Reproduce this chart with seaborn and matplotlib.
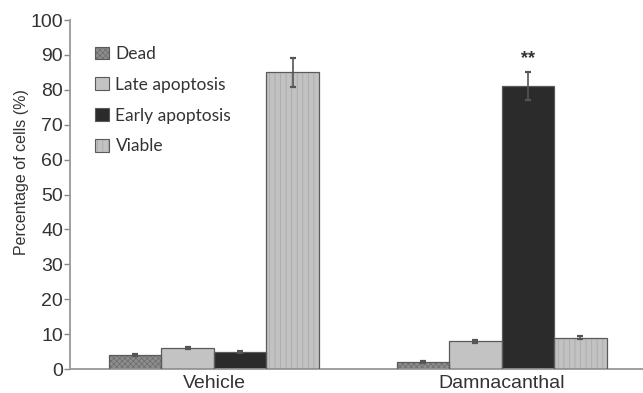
import matplotlib
matplotlib.use("Agg")
import matplotlib.pyplot as plt
import seaborn as sns
import pandas as pd
from matplotlib.patches import Patch

# Cell-state percentages after treatment
treatments = ["Vehicle", "Damnacanthal"]
states = ["Dead", "Late apoptosis", "Early apoptosis", "Viable"]
vehicle_vals = [4.0, 6.0, 5.0, 85.0]
vehicle_err = [0.3, 0.4, 0.3, 4.2]
damna_vals = [2.0, 8.0, 81.0, 9.0]
damna_err = [0.2, 0.4, 4.0, 0.5]
yticks = list(range(0, 101, 10))

sns.set_theme(style="white")
plt.rcParams["font.family"] = ["Liberation Sans", "DejaVu Sans"]
plt.rcParams["hatch.linewidth"] = 0.6

df = pd.DataFrame({
    "treatment": [t for t in treatments for _ in states],
    "state": states * 2,
    "value": vehicle_vals + damna_vals,
    "err": vehicle_err + damna_err,
})

face = {"Dead": "#8e8e8e", "Late apoptosis": "#c3c3c3",
        "Early apoptosis": "#2b2b2b", "Viable": "#c2c2c2"}
hatch = {"Dead": "xxxxxx", "Late apoptosis": "", "Early apoptosis": "", "Viable": "|||"}
hatch_col = {"Dead": "#6f6f6f", "Late apoptosis": "#c3c3c3",
             "Early apoptosis": "#2b2b2b", "Viable": "#aaaaaa"}

fig = plt.figure(figsize=(6.43, 3.93), dpi=100)
ax = fig.add_axes([0.109, 0.061, 0.895, 0.888])

sns.barplot(data=df, x="treatment", y="value", hue="state", order=treatments,
            hue_order=states, palette=face, width=0.73, gap=0, errorbar=None,
            ax=ax, legend=False, saturation=1)

# Style bars per state and add error bars at the bar centres
for container, st in zip(ax.containers, states):
    sub = df[df["state"] == st].set_index("treatment").loc[treatments]
    xs = []
    for bar in container:
        bar.set_hatch(hatch[st])
        bar.set_edgecolor(hatch_col[st])
        bar.set_linewidth(0)
        xs.append(bar.get_x() + bar.get_width() / 2)
        # outline drawn separately so hatch colour stays soft
        ax.add_patch(plt.Rectangle((bar.get_x(), 0), bar.get_width(), bar.get_height(),
                                   fill=False, edgecolor="#5a5a5a", linewidth=0.9, zorder=3))
    ax.errorbar(xs, sub["value"].values, yerr=sub["err"].values, fmt="none",
                ecolor="#555555", elinewidth=1.2, capsize=2.5, capthick=1.6, zorder=4)

# Significance marker above Damnacanthal early apoptosis
early_bar = ax.containers[2][1]
ax.text(early_bar.get_x() + early_bar.get_width() / 2, 89.0, "**",
        ha="center", va="center", fontsize=13, fontweight="bold", color="#333333")

ax.set_xlim(-0.5, 1.5)
ax.set_ylim(0, 100)
ax.set_yticks(yticks)
ax.set_yticklabels([str(v) for v in yticks], fontsize=14, color="#333333")
ax.set_xticks([0, 1])
ax.set_xticklabels(treatments, fontsize=14, color="#333333")
ax.tick_params(axis="x", length=0, pad=4)
ax.set_xticks([0.5], minor=True)
ax.tick_params(axis="x", which="minor", length=4, width=1.2, color="#888888", direction="out")
ax.tick_params(axis="y", length=4, width=1.0, color="#888888", direction="out", pad=1, left=True)
ax.set_xlabel("")
ax.set_ylabel("Percentage of cells (%)", fontsize=11.5, color="#333333")
ax.yaxis.set_label_coords(-0.072, 0.565)

for s in ["top", "right"]:
    ax.spines[s].set_visible(False)
for s in ["left", "bottom"]:
    ax.spines[s].set_color("#999999")
    ax.spines[s].set_linewidth(1.3)

handles = [Patch(facecolor=face[s], edgecolor="#5a5a5a", hatch=hatch[s], linewidth=0.8)
           for s in states]
for h, s in zip(handles, states):
    h._hatch_color = matplotlib.colors.to_rgba(hatch_col[s])
leg = ax.legend(handles, states, loc="upper left", bbox_to_anchor=(0.017, 0.97),
                frameon=False, handlelength=0.75, handleheight=0.75, handletextpad=0.4,
                labelspacing=0.85, prop={"family": ["Lato", "DejaVu Sans"], "size": 12.5})
for t in leg.get_texts():
    t.set_color("#333333")

fig.savefig("out.png", dpi=100)
